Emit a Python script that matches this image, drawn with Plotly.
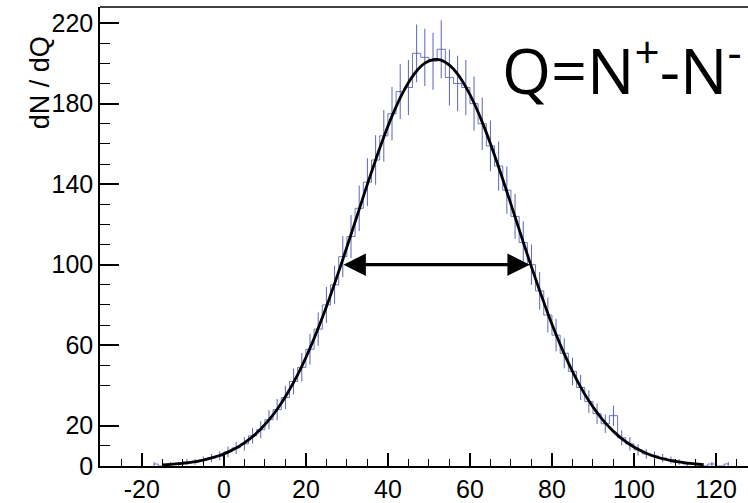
import numpy as np
import plotly.graph_objects as go

# Histogram (bin centers, counts)
bin_centers = list(range(-17, 124, 2))
counts = [1, 0, 1, 1, 2, 2, 3, 4, 5, 7,
          9, 11, 15, 18, 23, 28, 34, 42, 49, 58,
          68, 80, 90, 104, 114, 128, 141, 152, 164, 175,
          186, 188, 205, 203, 201, 207, 193, 190, 188, 180,
          170, 159, 149, 137, 124, 111, 100, 87, 75, 65,
          56, 47, 39, 32, 26, 21, 25, 14, 11, 8,
          6, 5, 4, 3, 2, 1, 1, 0, 1, 0, 1]

# Fit curve samples
fit_x = list(range(-15, 118, 2))
fit_y = [0.6, 0.8, 1.2, 1.6, 2.2, 2.9, 4.0, 5.2, 6.9, 8.9,
         11.5, 14.6, 18.4, 22.9, 28.2, 34.4, 41.5, 49.5, 58.5, 68.4,
         79.1, 90.6, 102.6, 115.0, 127.5, 140.0, 152.0, 163.4, 173.8, 182.9,
         190.4, 196.2, 200.1, 201.9, 201.6, 199.1, 194.7, 188.3, 180.3, 170.8,
         160.1, 148.5, 136.3, 123.8, 111.2, 98.9, 87.1, 75.8, 65.3, 55.7,
         47.0, 39.2, 32.4, 26.5, 21.4, 17.2, 13.6, 10.7, 8.3, 6.3,
         4.8, 3.6, 2.7, 2.0, 1.4, 1.0, 0.7]

# FWHM arrow ends
fwhm_left = 28.8
fwhm_right = 74.6
fwhm_level = 100

x_ticks = [-20, 0, 20, 40, 60, 80, 100, 120]
y_ticks = [0, 20, 60, 100, 140, 180, 220]
y_minor = [10, 40, 50, 70, 80, 90, 110, 120, 130, 150, 160, 170, 190, 200, 210]

blue = "#2a36a8"
errs = np.sqrt(np.array(counts, dtype=float))

fig = go.Figure()
fig.add_trace(go.Scatter(
    x=bin_centers, y=counts, mode="lines", line=dict(color=blue, width=0.8, shape="hvh"),
    error_y=dict(type="data", array=errs, color=blue, thickness=0.9, width=0),
    opacity=0.85, hoverinfo="skip", showlegend=False))
fig.add_trace(go.Scatter(
    x=fit_x, y=fit_y, mode="lines", line=dict(color="black", width=2.8, shape="spline"),
    showlegend=False))

fig.add_annotation(x=fwhm_right, y=fwhm_level, ax=fwhm_left, ay=fwhm_level,
                   xref="x", yref="y", axref="x", ayref="y", text="",
                   showarrow=True, arrowhead=2, arrowside="end+start",
                   arrowwidth=3.2, arrowsize=1.4, arrowcolor="black", standoff=0, startstandoff=0)

fig.add_annotation(x=(500 - 100) / 648, y=(503 - 32 - 67) / 464, xref="paper", yref="paper",
                   xanchor="left", yanchor="middle", showarrow=False,
                   text="Q=N<sup>+</sup>-N<sup>-</sup>",
                   font=dict(family="Open Sans", size=63, color="black"))

fig.add_annotation(x=-60 / 648, y=(503 - 32 - 84) / 464, xref="paper", yref="paper",
                   xanchor="center", yanchor="middle", showarrow=False, textangle=-90,
                   text="dN / dQ", font=dict(family="Liberation Sans", size=27, color="black"))

fig.add_shape(type="line", xref="paper", yref="paper", x0=0, x1=1, y0=1, y1=1,
              line=dict(color="black", width=1.5))

fig.update_layout(
    width=748, height=503, margin=dict(l=100, r=0, t=7, b=32),
    plot_bgcolor="white", paper_bgcolor="white",
    font=dict(family="Liberation Sans", size=25, color="black"),
    xaxis=dict(range=[-30.2, 127.8], showgrid=False, zeroline=False, showline=True,
               linecolor="black", linewidth=1.5, ticks="inside", ticklen=13, tickwidth=1.5,
               tickcolor="black", tickvals=x_ticks, ticktext=[str(v) for v in x_ticks],
               minor=dict(dtick=5, tick0=0, ticks="inside", ticklen=7, tickcolor="black", tickwidth=1.2),
               tickfont=dict(size=25)),
    yaxis=dict(range=[0, 228], showgrid=False, zeroline=False, showline=True,
               linecolor="black", linewidth=1.5, ticks="inside", ticklen=19, tickwidth=1.5,
               tickcolor="black", tickvals=y_ticks, ticktext=[str(v) for v in y_ticks],
               minor=dict(tickvals=y_minor, ticks="inside", ticklen=10, tickcolor="black", tickwidth=1.2),
               tickfont=dict(size=25)),
)

fig.write_html("out.html")
